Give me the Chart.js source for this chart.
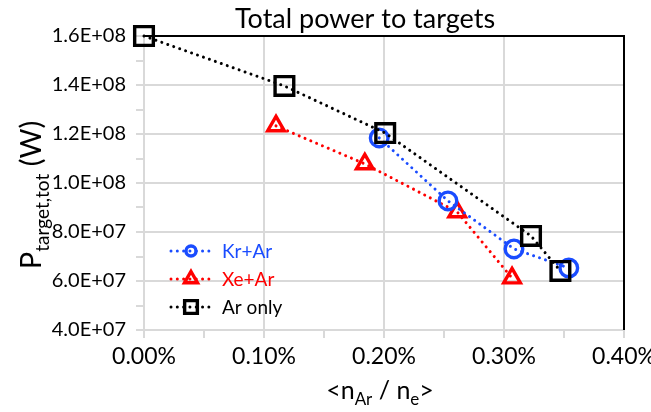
<!DOCTYPE html>
<html>
<head>
<meta charset="utf-8">
<script src="https://cdn.jsdelivr.net/npm/chart.js@4/dist/chart.umd.min.js"></script>
<style>
  html, body { margin: 0; padding: 0; background: #fff; }
  #wrap { width: 651px; height: 412px; position: relative; }
</style>
</head>
<body>
<div id="wrap"><canvas id="c" width="651" height="412"></canvas></div>
<script>
// Argon fraction <nAr/ne> in percent, and total power to targets in W
const arOnlyX = [0.000, 0.117, 0.201, 0.3225, 0.347];
const arOnlyY = [1.600e8, 1.396e8, 1.204e8, 7.84e7, 6.41e7];
const krArX = [0.196, 0.2533, 0.3083, 0.354];
const krArY = [1.184e8, 9.27e7, 7.31e7, 6.53e7];
const xeArX = [0.110, 0.184, 0.261, 0.3067];
const xeArY = [1.233e8, 1.078e8, 8.82e7, 6.12e7];

const seriesNames = ['Kr+Ar', 'Xe+Ar', 'Ar only'];
const xTicks = [0, 0.1, 0.2, 0.3, 0.4];
const yTicks = [4e7, 6e7, 8e7, 1e8, 1.2e8, 1.4e8, 1.6e8];

const FONT = 'Lato, "Open Sans", sans-serif';
const BLUE = '#1a4cff', RED = '#ff0000', BLACK = '#000000';
const DOTS = [0.01, 6.3];
const MARK_W = 3.4;

const pts = (xs, ys) => xs.map((x, i) => ({ x, y: ys[i] }));

const lineStyle = color => ({
  borderColor: color,
  backgroundColor: 'rgba(0,0,0,0)',
  borderWidth: 3,
  borderDash: DOTS,
  borderCapStyle: 'round',
  pointBorderColor: color,
  pointBackgroundColor: 'rgba(0,0,0,0)',
  pointBorderWidth: MARK_W,
  showLine: true,
  clip: false,
  tension: 0
});

const datasets = [
  Object.assign({ label: seriesNames[2], data: pts(arOnlyX, arOnlyY), pointStyle: 'rect', pointRadius: 13.2, order: 1 }, lineStyle(BLACK)),
  Object.assign({ label: seriesNames[0], data: pts(krArX, krArY), pointStyle: 'circle', pointRadius: 8.8, order: 2 }, lineStyle(BLUE)),
  Object.assign({ label: seriesNames[1], data: pts(xeArX, xeArY), pointStyle: 'triangle', pointRadius: 9.6, order: 3 }, lineStyle(RED))
];

// Title, axis titles with subscripts, frame and the in-plot legend
const decor = {
  id: 'decor',
  beforeDatasetsDraw(chart) {
    const ctx = chart.ctx, a = chart.chartArea;
    ctx.save();
    // black frame on top and right
    ctx.strokeStyle = '#000'; ctx.lineWidth = 2;
    ctx.beginPath();
    ctx.moveTo(a.left, a.top); ctx.lineTo(a.right, a.top); ctx.lineTo(a.right, a.bottom);
    ctx.stroke();
    ctx.restore();
  },
  afterDraw(chart) {
    const ctx = chart.ctx;
    ctx.save();
    // title
    ctx.fillStyle = '#000';
    ctx.textBaseline = 'alphabetic'; ctx.textAlign = 'center';
    ctx.font = '27px ' + FONT;
    ctx.fillText('Total power to targets', 365, 28);

    const drawRun = (runs, x, y) => {
      let w = 0;
      runs.forEach(r => { ctx.font = r[1] + 'px ' + FONT; w += ctx.measureText(r[0]).width; });
      let cx = x - w / 2;
      ctx.textAlign = 'left';
      runs.forEach(r => {
        ctx.font = r[1] + 'px ' + FONT;
        ctx.fillText(r[0], cx, y + r[2]);
        cx += ctx.measureText(r[0]).width;
      });
    };
    // x axis title: <nAr / ne>
    drawRun([['<n', 25, 0], ['Ar', 17, 6], [' / n', 25, 0], ['e', 17, 6], ['>', 25, 0]], 380, 399);

    // y axis title: P target,tot (W), rotated
    ctx.save();
    ctx.translate(41, 195);
    ctx.rotate(-Math.PI / 2);
    drawRun([['P', 29, 0], ['target,tot', 19, 8], [' (W)', 29, 0]], 0, 0);
    ctx.restore();

    // legend
    const entries = [
      { name: seriesNames[0], ds: datasets[1], y: 251, r: 5 },
      { name: seriesNames[1], ds: datasets[2], y: 279, r: 7.5 },
      { name: seriesNames[2], ds: datasets[0], y: 307, r: 9 }
    ];
    entries.forEach(e => {
      const col = e.ds.borderColor;
      ctx.strokeStyle = col; ctx.lineWidth = 3; ctx.lineCap = 'round';
      ctx.setLineDash(DOTS);
      ctx.beginPath(); ctx.moveTo(171, e.y); ctx.lineTo(215, e.y); ctx.stroke();
      ctx.setLineDash([]);
      ctx.lineCap = 'butt';
      ctx.fillStyle = 'rgba(0,0,0,0)';
      ctx.lineWidth = MARK_W;
      Chart.helpers.drawPoint(ctx, {
        pointStyle: e.ds.pointStyle, radius: e.r, borderWidth: MARK_W, rotation: 0
      }, 191, e.y);
      ctx.fillStyle = col; ctx.textAlign = 'left'; ctx.textBaseline = 'middle';
      ctx.font = '19px ' + FONT;
      ctx.fillText(e.name, 222, e.y + 1);
    });
    ctx.restore();
  }
};

new Chart(document.getElementById('c'), {
  type: 'scatter',
  data: { datasets },
  options: {
    responsive: false,
    animation: false,
    events: [],
    layout: { padding: { top: 36, right: 27, left: 0, bottom: 0 } },
    plugins: { legend: { display: false }, tooltip: { enabled: false }, title: { display: false } },
    scales: {
      x: {
        type: 'linear', min: 0, max: 0.4,
        afterBuildTicks: s => { s.ticks = [0, 0.05, 0.1, 0.15, 0.2, 0.25, 0.3, 0.35, 0.4].map(v => ({ value: v })); },
        afterFit: s => { s.height = 82; s.paddingLeft = 0; s.paddingRight = 0; },
        grid: {
          color: c => (Math.round(c.tick.value * 100) % 10 === 0 && c.tick.value > 0.001) ? '#d9d9d9' : 'rgba(0,0,0,0)',
          tickColor: '#d9d9d9', lineWidth: 2, tickLength: 8, drawOnChartArea: true
        },
        border: { color: '#d9d9d9', width: 2 },
        ticks: {
          color: '#000', font: { family: FONT, size: 23 }, padding: 5, maxRotation: 0, autoSkip: false,
          callback: v => xTicks.some(t => Math.abs(t - v) < 1e-9) ? v.toFixed(2) + '%' : ''
        }
      },
      y: {
        type: 'linear', min: 4e7, max: 1.6e8,
        afterBuildTicks: s => { const t = []; for (let v = 4e7; v <= 1.6e8 + 1; v += 1e7) t.push({ value: v }); s.ticks = t; },
        afterFit: s => { s.width = 144; },
        grid: {
          color: c => (Math.round(c.tick.value / 1e7) % 2 === 0 && c.tick.value > 4.1e7) ? '#d9d9d9' : 'rgba(0,0,0,0)',
          tickColor: '#d9d9d9', lineWidth: 2, tickLength: 8
        },
        border: { color: '#d9d9d9', width: 2 },
        ticks: {
          color: '#000', font: { family: FONT, size: 20 }, padding: 10, autoSkip: false,
          callback: v => yTicks.some(t => Math.abs(t - v) < 1) ? v.toExponential(1).toUpperCase().replace(/E\+(\d)$/, 'E+0$1') : ''
        }
      }
    }
  },
  plugins: [decor]
});
</script>
</body>
</html>
